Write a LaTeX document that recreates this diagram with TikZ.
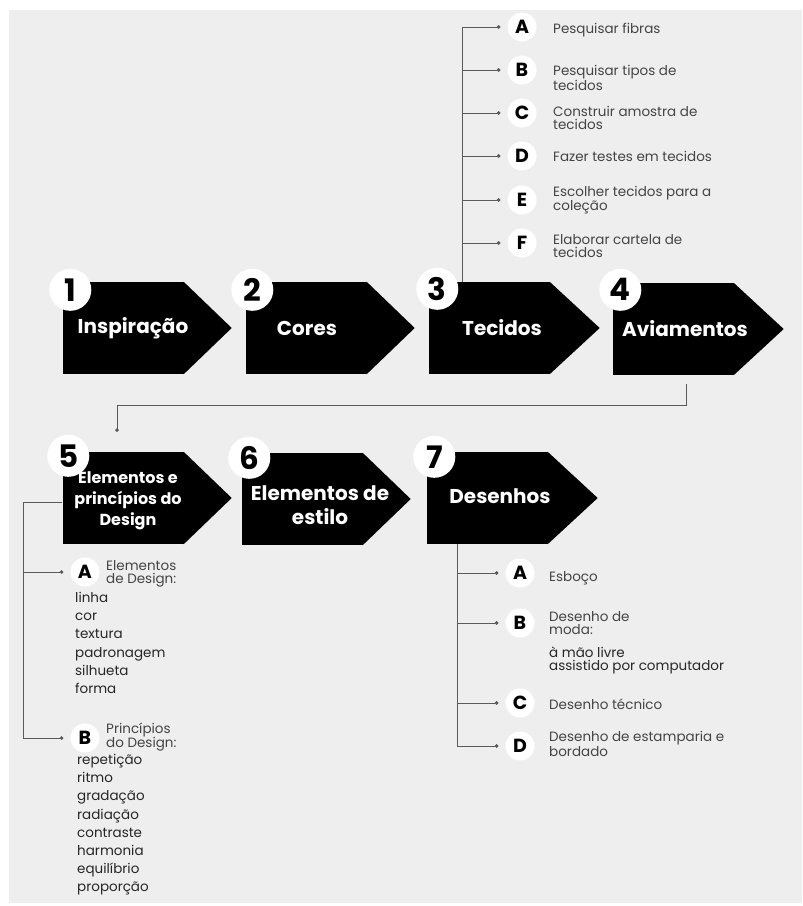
\documentclass[tikz,border=0pt]{standalone}
\usepackage{fontspec}
\setmainfont{Poppins}
\usetikzlibrary{positioning,arrows.meta,calc}
\definecolor{panel}{HTML}{EEEEEE}
\definecolor{ink}{HTML}{444444}
\definecolor{linegray}{HTML}{5A5A5A}

\begin{document}
\begin{tikzpicture}[x=1pt,y=-1pt,
    stepbox/.style={fill=black, minimum width=121pt, minimum height=92pt, inner sep=0pt},
    stepnum/.style={circle, fill=white, minimum size=42pt, inner sep=0pt,
                    font=\fontsize{31}{31}\selectfont\bfseries},
    steptitle/.style={text=white, align=center, inner sep=0pt,
                    font=\fontsize{20}{24}\selectfont\bfseries},
    letter/.style={circle, fill=white, minimum size=29pt, inner sep=0pt,
                    font=\fontsize{19}{19}\selectfont\bfseries},
    itemtext/.style={anchor=west, align=left, inner sep=0pt, text=ink,
                    font=\fontsize{13.5}{13}\selectfont},
    listtext/.style={anchor=north west, align=left, inner sep=0pt, text=black!85,
                    font=\fontsize{13.5}{18.2}\selectfont},
    branch/.style={draw=linegray, line width=1pt, -{Circle[length=3.5pt]}, shorten >=7pt},
  ]
\useasboundingbox (0,0) rectangle (803,906);
\fill[white] (0,0) rectangle (803,906);
\fill[panel] (9,10) rectangle (802,903);

% first row
\node[stepbox] (s1) at (123,328) {};
\node[stepbox] (s2) at (306,328) {};
\node[stepbox] (s3) at (489,328) {};
\node[stepbox] (s4) at (673,329) {};
% second row
\node[stepbox] (s5) at (123,498) {};
\node[stepbox] (s6) at (302,499) {};
\node[stepbox] (s7) at (487,498) {};

\fill (s1.north east) -- ([xshift=48pt]s1.east) -- (s1.south east) -- cycle;
\fill (s2.north east) -- ([xshift=48pt]s2.east) -- (s2.south east) -- cycle;
\fill (s3.north east) -- ([xshift=50pt]s3.east) -- (s3.south east) -- cycle;
\fill (s4.north east) -- ([xshift=50pt]s4.east) -- (s4.south east) -- cycle;
\fill (s5.north east) -- ([xshift=48pt]s5.east) -- (s5.south east) -- cycle;
\fill (s6.north east) -- ([xshift=48pt]s6.east) -- (s6.south east) -- cycle;
\fill (s7.north east) -- ([xshift=50pt]s7.east) -- (s7.south east) -- cycle;

\node[steptitle] (t1) at ([xshift=10pt]s1.center) {Inspiração};
\node[steptitle] (t2) at ([xshift=1pt]s2.center) {Cores};
\node[steptitle] (t3) at ([xshift=13pt]s3.center) {Tecidos};
\node[steptitle] (t4) at ([xshift=12pt]s4.center) {Aviamentos};
\node[steptitle, font=\fontsize{16}{21}\selectfont\bfseries] (t5) at ([xshift=5pt,yshift=-3pt]s5.center) {Elementos e\\princípios do\\Design};
\node[steptitle] (t6) at ([xshift=18pt,yshift=-6pt]s6.center) {Elementos de\\estilo};
\node[steptitle] (t7) at ([xshift=13pt,yshift=2pt]s7.center) {Desenhos};

\node[stepnum] (n1) at ([xshift=8pt,yshift=-8pt]s1.north west) {1};
\node[stepnum] (n2) at ([xshift=7pt,yshift=-8pt]s2.north west) {2};
\node[stepnum] (n3) at ([xshift=9pt,yshift=-7pt]s3.north west) {3};
\node[stepnum] (n4) at ([xshift=8pt,yshift=-7pt]s4.north west) {4};
\node[stepnum] (n5) at ([xshift=6pt,yshift=-4pt]s5.north west) {5};
\node[stepnum] (n6) at ([xshift=8pt,yshift=-5pt]s6.north west) {6};
\node[stepnum] (n7) at ([xshift=8pt,yshift=-5pt]s7.north west) {7};

% Tecidos
\node[letter] (l3a) at (522,27) {A};
\node[letter] (l3b) at (522,70) {B};
\node[letter] (l3c) at (522,113) {C};
\node[letter] (l3d) at (522,156) {D};
\node[letter] (l3e) at (522,200) {E};
\node[letter] (l3f) at (522,243) {F};
\node[itemtext] (i3a) at (553,30) {Pesquisar fibras};
\node[itemtext] (i3b) at (553,78) {Pesquisar tipos de\\tecidos};
\node[itemtext] (i3c) at (553,118) {Construir amostra de\\tecidos};
\node[itemtext] (i3d) at (553,156) {Fazer testes em tecidos};
\node[itemtext] (i3e) at (553,200) {Escolher tecidos para a\\coleção};
\node[itemtext] (i3f) at (553,246) {Elaborar cartela de\\tecidos};
\coordinate (k3) at ([xshift=34pt]s3.north west);
\draw[branch] (k3) |- (l3a);
\draw[branch] (k3) |- (l3b);
\draw[branch] (k3) |- (l3c);
\draw[branch] (k3) |- (l3d);
\draw[branch] (k3) |- (l3e);
\draw[branch] (k3) |- (l3f);

% from 4 down to 5
\draw[branch, shorten >=20pt] ([xshift=13pt,yshift=-9pt]s4.south) -- ++(0,21) -| ([xshift=-6pt]s5.north);

% Elementos e principios
\node[letter] (l5a) at (85,572) {A};
\node[letter] (l5b) at (85,738) {B};
\node[itemtext] (i5a) at (106,574) {Elementos\\de Design:};
\node[itemtext] (i5b) at (106,737) {Princípios\\do Design:};
\node[listtext] (m5a) at (75,592) {linha\\cor\\textura\\padronagem\\silhueta\\forma};
\node[listtext] (m5b) at (77,754) {repetição\\ritmo\\gradação\\radiação\\contraste\\harmonia\\equilíbrio\\proporção};
\coordinate (k5) at (23,502);
\draw[branch] (k5 -| s5.west) -- (k5) |- (l5a);
\draw[branch] (k5) |- (l5b);

% Desenhos
\node[letter] (l7a) at (520,573) {A};
\node[letter] (l7b) at (520,623) {B};
\node[letter] (l7c) at (520,703) {C};
\node[letter] (l7d) at (520,746) {D};
\node[itemtext] (i7a) at (549,578) {Esboço};
\node[itemtext] (i7b) at (549,623) {Desenho de\\moda:};
\node[itemtext, text=black!85] (m7b) at (549,660) {à mão livre\\assistido por computador};
\node[itemtext] (i7c) at (549,704) {Desenho técnico};
\node[itemtext] (i7d) at (549,744) {Desenho de estamparia e\\bordado};
\coordinate (k7) at ([xshift=31pt]s7.south west);
\draw[branch] (k7) |- (l7a);
\draw[branch] (k7) |- (l7b);
\draw[branch] (k7) |- (l7c);
\draw[branch] (k7) |- (l7d);
\end{tikzpicture}
\end{document}
